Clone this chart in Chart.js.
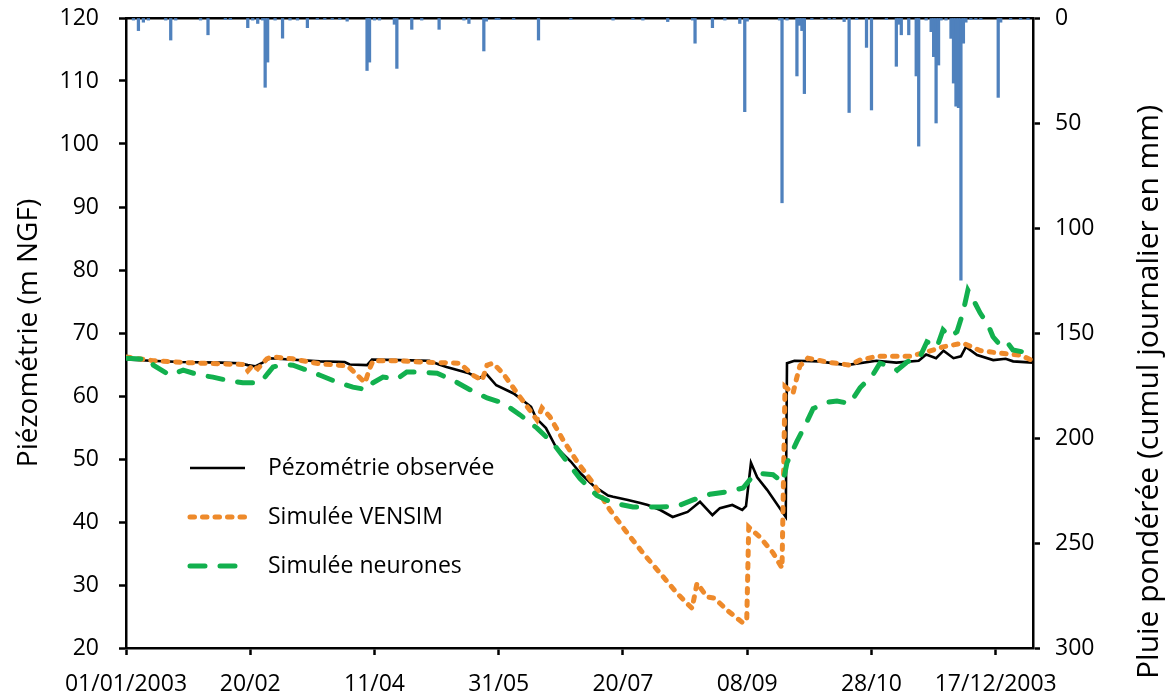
<!DOCTYPE html>
<html><head><meta charset="utf-8">
<script src="https://cdn.jsdelivr.net/npm/chart.js@4.4.1/dist/chart.umd.min.js"></script>
<style>html,body{margin:0;padding:0;background:#fff}canvas{display:block}</style>
</head><body>
<canvas id="c" width="1167" height="697"></canvas>
<script>
// ---- Data (day of year 2003, 0 = 01/01/2003) ----
const xTickDays = [0, 50, 100, 150, 200, 250, 300, 350];
const xTickLabels = ['01/01/2003', '20/02', '11/04', '31/05', '20/07', '08/09', '28/10', '17/12/2003'];

const obsDays = [0,10,22,38,46,49,52,55,58,66,78,88,90,97,99,110,122,126,129,138,142,145,149,156,163,165,169,173,179,183,188,194,196,202,207,210,215,220,226,231,236,239,244,248,249.5,251.5,254,258,265.5,266,269,279,290,302,310,319,322,326,329,333,336,338,342.5,349,354,357,365];
const obsVals = [65.8,65.6,65.4,65.3,65.2,64.9,64.7,65.3,66.0,65.8,65.5,65.4,65.0,64.9,65.8,65.7,65.6,65.0,64.6,63.6,62.8,63.5,61.7,60.4,58.3,56.5,54.9,51.9,49.6,47.7,45.8,44.2,44.0,43.5,43.0,42.7,41.9,40.8,41.6,43.2,41.1,42.2,42.7,41.9,42.5,49.4,47.1,45.1,40.8,65.2,65.6,65.5,64.9,65.6,65.3,65.6,66.6,66.0,67.2,66.0,66.3,67.8,66.5,65.7,65.9,65.5,65.3];

const vensimDays = [0,11,24.5,38,47,49,51,53,56.7,58.8,67,78,89,91.3,96.2,97.8,99.4,109,118,134.4,139.6,143.3,145.3,147.7,151.7,158.6,165.4,167.4,170.6,175.9,181.5,187.9,194.8,201.6,208,214.9,221.7,227.8,229.8,233.8,236.9,241.9,247.9,249.8,250.6,255.1,260.4,264,265.2,268.4,270,271.2,274.4,282,291.3,295.4,302.2,315.5,322.3,328.8,336.8,343.7,351.7,359.8,365];
const vensimVals = [66.2,65.6,65.3,65.1,65.0,64.0,64.9,64.3,65.9,66.2,65.9,65.1,64.8,64.0,62.1,64.1,65.6,65.6,65.4,65.2,63.3,62.5,64.9,65.2,63.6,59.8,56.2,58.1,56.7,53.0,49.6,46.2,41.9,38.3,35.1,31.9,28.7,26.3,30.3,28.1,27.9,26.0,24.1,24.3,39.2,37.6,35.1,32.7,61.5,60.4,63.0,64.8,66.0,65.4,64.9,65.7,66.3,66.3,67.0,67.8,68.4,67.2,66.8,66.5,65.6];

const neuroDays = [0,9.7,11,17.7,23,29.8,35,40.6,47,52.7,54.7,57.1,59.2,63.2,67.2,72.8,78.1,85,91.3,97,99.4,103.4,109,113,118.3,125.2,131.6,138.4,145.3,151.7,158.6,165.4,171.8,175.9,182.7,189.5,196,204,214.9,221.7,228.2,235,241.9,248.3,251.9,255.1,260.4,264.4,266,270,274,276.5,282.1,286.1,291.3,295.4,300.6,303.4,308.7,310.3,314.3,319.5,322.3,326.4,328.8,331.6,334.4,336.8,338.8,341.6,343.7,346.9,348.9,351.7,354.5,356.9,361,365];
const neuroVals = [66.0,65.8,64.9,63.3,64.1,63.3,63.0,62.5,62.1,62.1,62.4,63.6,64.6,65.0,64.9,64.1,63.3,62.2,61.4,61.0,62.1,63.0,62.7,63.8,63.8,63.6,62.5,61.0,59.7,58.9,57.0,54.9,52.5,50.4,46.9,44.2,43.0,42.4,42.4,42.5,43.5,44.4,44.8,45.4,47.1,47.7,47.5,46.3,49.4,52.8,55.9,58.0,59.0,59.2,58.8,61.3,63.4,65.2,64.6,64.1,65.4,66.2,68.6,67.8,70.5,69.4,70.2,73.2,76.8,74.8,73.2,71.3,69.4,68.1,68.6,67.3,67.0,65.7];

const rainDays = [3,5,7,9,16,18,20,30,33,40,42,49,51,53,55,56,57,60,63,66,69,73,77,80,83,86,89,97,98,100,102,108,109,115,119,126,136,138,144,145,149,150,156,166,179,196,204,208,218,228,229,236,241,247,249,250,263,264,266,270,271,272,273,276,280,283,285,289,291,294,298,300,306,310,311,312,315,318,319,322,324,325,326,327,328,330,332,333,334,335,336,337,338,340,342,344,351,352,356,360,363];
const rainMm = [1,6,2,1,1,10.5,1,1,8,0.8,0.8,4.6,1,2.6,1,33,21,1,9.6,1,1,4.6,0.7,0.7,0.7,0.7,1.5,25,21,1,1,3,24,5.4,1,5.4,1,2.6,15.7,1.5,0.8,0.8,0.8,10.5,0.8,1,0.8,1,1.7,1,12,4.6,1,2.6,44.6,1.5,1,88,1,27.6,3.5,6,36,0.8,0.5,0.8,0.5,1.7,45,0.8,14,43.8,0.8,23,3,8,8,27.6,61,1,6.5,18.4,50,22.4,1,1,9.7,31,42,42.7,124.8,12,2,0.8,0.8,0.8,37.8,2,0.8,0.8,0.8];

const seriesNames = ['Pézométrie observée', 'Simulée VENSIM', 'Simulée neurones', 'Pluie pondérée'];
const leftTitle = 'Piézométrie (m NGF)';
const rightTitle = 'Pluie pondérée (cumul journalier en mm)';

// ---- Chart ----
const FONT = "'Open Sans', sans-serif";
Chart.defaults.font.family = FONT;
Chart.defaults.color = '#000';
const toXY = (xs, ys) => xs.map((d, i) => ({ x: d, y: ys[i] }));

const overlay = {
  id: 'overlay',
  afterDatasetsDraw(chart, args, o) {
    const ctx = chart.ctx;
    ctx.save();
    let row = 0;
    chart.data.datasets.forEach(ds => {
      if (ds.type !== 'line') return;
      const y = o.legendTop + row * o.legendGap;
      ctx.beginPath();
      ctx.setLineDash(ds.borderDash || []);
      ctx.lineCap = ds.borderCapStyle || 'butt';
      ctx.strokeStyle = ds.borderColor;
      ctx.lineWidth = ds.borderWidth;
      ctx.moveTo(o.legendX, y);
      ctx.lineTo(o.legendX + o.sampleW, y);
      ctx.stroke();
      ctx.setLineDash([]);
      ctx.fillStyle = '#000';
      ctx.font = o.legendFont;
      ctx.textBaseline = 'middle';
      ctx.textAlign = 'left';
      ctx.fillText(ds.label, o.legendX + o.textOffset, y);
      row++;
    });
    ctx.translate(o.rtX, o.rtY);
    ctx.rotate(-Math.PI / 2);
    ctx.textAlign = 'center';
    ctx.textBaseline = 'middle';
    ctx.font = o.titleFont;
    ctx.fillStyle = '#000';
    ctx.fillText(o.rightTitle, 0, 0);
    ctx.restore();
  }
};

const tickGrid = { display: true, drawOnChartArea: false, drawTicks: true, tickLength: 7, tickColor: '#000', tickWidth: 2.5, offset: false };
const axisBorder = { display: true, color: '#000', width: 2.5 };
const fixV = w => s => { s.width = w; s.paddingTop = 0; s.paddingBottom = 0; };

new Chart(document.getElementById('c'), {
  type: 'bar',
  plugins: [overlay],
  data: {
    datasets: [
      { type: 'line', label: seriesNames[0], data: toXY(obsDays, obsVals), borderColor: '#000000', borderWidth: 2.6, pointRadius: 0, tension: 0, xAxisID: 'x', yAxisID: 'y', order: 2 },
      { type: 'line', label: seriesNames[1], data: toXY(vensimDays, vensimVals), borderColor: '#EE8A2B', borderWidth: 5, borderDash: [4.5, 8], borderCapStyle: 'round', pointRadius: 0, tension: 0, xAxisID: 'x', yAxisID: 'y', order: 1 },
      { type: 'line', label: seriesNames[2], data: toXY(neuroDays, neuroVals), borderColor: '#12B04E', borderWidth: 5, borderDash: [15, 15], borderCapStyle: 'round', pointRadius: 0, tension: 0, xAxisID: 'x', yAxisID: 'y', order: 0 },
      { type: 'bar', label: seriesNames[3], data: toXY(rainDays, rainMm), backgroundColor: '#4F81BD', borderWidth: 0, barThickness: 2.6, xAxisID: 'x', yAxisID: 'y1', order: 3 }
    ]
  },
  options: {
    responsive: false,
    animation: false,
    layout: { padding: 0 },
    plugins: {
      legend: { display: false },
      tooltip: { enabled: false },
      overlay: {
        legendX: 190, legendTop: 468, legendGap: 49, sampleW: 55, textOffset: 78,
        legendFont: "23px 'Open Sans', sans-serif",
        titleFont: "30px 'Open Sans', sans-serif",
        rightTitle: rightTitle, rtX: 1149, rtY: 392
      }
    },
    scales: {
      x: {
        type: 'linear', position: 'bottom', min: 0, max: 365, offset: false,
        afterBuildTicks: s => { s.ticks = xTickDays.map(v => ({ value: v })); },
        ticks: { autoSkip: false, maxRotation: 0, padding: 16, font: { size: 23 },
                 callback: (v, i) => xTickLabels[i] },
        grid: tickGrid, border: axisBorder,
        afterFit: s => { s.height = 49; s.paddingLeft = 0; s.paddingRight = 0; }
      },
      x2: {
        type: 'linear', axis: 'x', position: 'top', min: 0, max: 365, offset: false,
        ticks: { display: false }, grid: { display: false }, border: axisBorder,
        afterFit: s => { s.height = 18; }
      },
      y: {
        type: 'linear', position: 'left', min: 20, max: 120,
        ticks: { stepSize: 10, padding: 20, font: { size: 23 } },
        grid: tickGrid, border: axisBorder,
        title: { display: true, text: leftTitle, font: { size: 28 }, padding: { top: 12, bottom: 0 } },
        afterFit: fixV(126)
      },
      y1: {
        type: 'linear', position: 'right', reverse: true, min: 0, max: 300,
        ticks: { stepSize: 50, padding: 15, font: { size: 23 } },
        grid: tickGrid, border: axisBorder,
        afterFit: fixV(134)
      }
    }
  }
});
</script>
</body></html>
